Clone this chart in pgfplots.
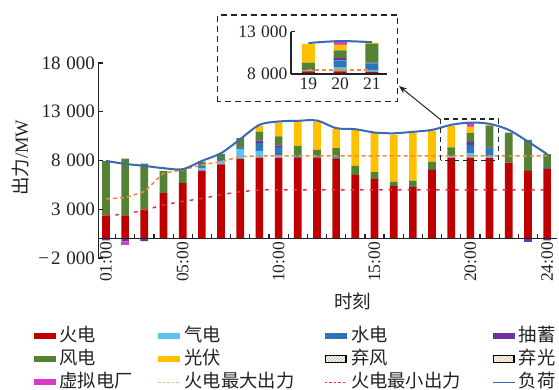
\documentclass[border=0pt]{standalone}
\usepackage{pgfplots}
\pgfplotsset{compat=1.18}
\usepackage{pgfplotstable}
\usetikzlibrary{patterns,arrows.meta}
\usepackage{fontspec}
\setmainfont{Liberation Serif}
\newfontfamily\cjk{Noto Sans CJK SC}

\definecolor{cfire}{HTML}{C00000}
\definecolor{cgas}{HTML}{5BC5F2}
\definecolor{chydro}{HTML}{2E75B6}
\definecolor{cpump}{HTML}{7030A0}
\definecolor{cwind}{HTML}{548235}
\definecolor{cpv}{HTML}{FFC000}
\definecolor{cvpp}{HTML}{D93BC6}
\definecolor{cmax}{HTML}{F08A3C}
\definecolor{cmin}{HTML}{E8303A}
\definecolor{cload}{HTML}{3B68B5}
\definecolor{ctext}{HTML}{222222}

\newcommand{\fy}{\fontsize{19}{22}\selectfont}
\newcommand{\fx}{\fontsize{17.5}{20}\selectfont}
\newcommand{\fl}{\fontsize{18.3}{21}\selectfont}
\newcommand{\fin}{\fontsize{17.5}{20}\selectfont}
\newcommand{\flab}{\fontsize{18.5}{22}\selectfont}
\newcommand{\legbar}[1]{\fill[#1] (0pt,-3pt) rectangle (22pt,3pt);}

\pgfplotstableread{
h fire gas hydro pump wind pv vpp
1 2350 0 0 0 5620 0 0
2 2300 0 0 0 5880 0 0
3 2950 0 0 0 4730 0 0
4 4650 0 0 0 2280 0 0
5 5670 0 0 0 1440 0 0
6 6950 300 230 0 410 0 0
7 7600 350 180 0 550 0 0
8 8160 1000 100 80 950 0 0
9 8300 690 790 260 930 580 0
10 8300 200 890 160 920 1440 0
11 8240 0 160 0 1100 2570 0
12 8300 0 120 0 670 2910 0
13 8130 0 170 0 960 1950 0
14 6520 0 0 0 930 3690 0
15 6080 0 0 0 720 4000 0
16 5390 0 0 0 440 4800 0
17 5260 0 0 0 680 4930 0
18 7030 0 0 0 860 3180 0
19 8300 150 0 0 900 2200 0
20 8300 450 850 280 920 680 350
21 8240 150 870 80 2210 150 0
22 7780 0 0 0 3090 0 0
23 6930 0 0 0 3190 0 0
24 7140 0 80 0 1430 0 0
}\barpos

\pgfplotstableread{
h fire gas hydro pump wind pv vpp
19 8300 150 0 0 900 2200 0
20 8300 450 850 280 920 680 350
21 8240 150 870 80 2210 150 0
}\barinset

\pgfplotstableread{
h pump vpp
1 -200 0
2 -330 -370
3 -260 0
23 -350 0
24 -200 0
}\barneg

\pgfplotstableread{
h pmax pmin load
1 4060 2340 7960
2 4190 2500 7650
3 4810 2900 7450
4 6700 3450 7210
5 7030 3800 7110
6 7550 4100 7960
7 7890 4500 8750
8 8400 4800 10190
9 8470 4980 11660
10 8470 4980 12000
11 8470 4980 12070
12 8470 4980 12100
13 8470 4980 11320
14 8470 4980 11210
15 8470 4980 10870
16 8470 4980 10790
17 8470 4980 10940
18 8470 4980 11140
19 8470 4980 11660
20 8470 4980 11890
21 8470 4980 11760
22 8470 4980 11140
23 8470 4980 9940
24 8470 4980 8650
}\lines

\pgfplotstableread{
h pmax pmin load
19 8470 4980 11660
20 8470 4980 11890
21 8470 4980 11760
}\linesinset

\pgfplotsset{
  geo/.style={scale only axis, width=458.4pt, height=195pt,
    xmin=0.6, xmax=24.5, ymin=-2000, ymax=18000,
    anchor=south west, at={(98.3pt,132pt)}, scaled y ticks=false},
  igeo/.style={scale only axis, width=95.7pt, height=42.3pt,
    xmin=18.45, xmax=21.47, ymin=8000, ymax=13000,
    anchor=south west, at={(291pt,316pt)}, scaled y ticks=false},
}

\begin{document}
\begin{tikzpicture}
\useasboundingbox (0pt,0pt) rectangle (559pt,390pt);
\clip (0pt,0pt) rectangle (559pt,390pt);

% negative stack
\begin{axis}[geo, hide axis, ybar stacked, bar width=0.4]
\addplot[fill=cpump, draw=none] table[x=h,y=pump]{\barneg};
\addplot[fill=cvpp, draw=none] table[x=h,y=vpp]{\barneg};
\end{axis}

% main axis with positive stack
\begin{axis}[geo, ybar stacked, bar width=0.4, axis on top,
  axis x line*=middle, axis y line*=left,
  axis line style={line width=1.2pt, ctext},
  tick style={line width=1.2pt, ctext},
  tick align=inside, major tick length=4.5pt,
  ytick={-2000,3000,8000,13000,18000},
  yticklabels={−\hspace{0.1em}2\hspace{0.3em}000,3\hspace{0.3em}000,8\hspace{0.3em}000,13\hspace{0.3em}000,18\hspace{0.3em}000},
  yticklabel style={font=\fy, text=ctext},
  xtick={1.5,2.5,...,23.5}, xticklabels={},
  extra x ticks={1,5,10,15,20,24},
  extra x tick labels={01:00,05:00,10:00,15:00,20:00,24:00},
  extra x tick style={major tick length=0pt, xticklabel style={rotate=90, anchor=east, font=\fx, text=ctext}},
  xlabel={\cjk 时刻}, ylabel={{\cjk 出力}/MW},
  xlabel style={at={(axis description cs:0.5556,0)}, anchor=center, yshift=-43.5pt, font=\flab, text=ctext},
  ylabel style={at={(axis description cs:-0.1686,0.513)}, anchor=center, font=\flab, text=ctext},
  legend style={at={(-0.1470,-0.338)}, anchor=north west, draw=none, fill=none,
    font=\fl, text=ctext, legend columns=4,
    /tikz/every odd column/.append style={column sep=3pt},
    /tikz/column 2/.append style={column sep=24.5pt},
    /tikz/column 4/.append style={column sep=29.5pt},
    /tikz/column 6/.append style={column sep=30.5pt},
    nodes={inner sep=0.5pt, text height=14.5pt, text depth=4pt}, row sep=3.8pt},
  legend cell align=left,
]
\addplot[fill=cfire, draw=none, legend image code/.code={\legbar{cfire}}] table[x=h,y=fire]{\barpos};
\addlegendentry{\cjk 火电}
\addplot[fill=cgas, draw=none, legend image code/.code={\legbar{cgas}}] table[x=h,y=gas]{\barpos};
\addlegendentry{\cjk 气电}
\addplot[fill=chydro, draw=none, legend image code/.code={\legbar{chydro}}] table[x=h,y=hydro]{\barpos};
\addlegendentry{\cjk 水电}
\addplot[fill=cpump, draw=none, legend image code/.code={\legbar{cpump}}] table[x=h,y=pump]{\barpos};
\addlegendentry{\cjk 抽蓄}
\addplot[fill=cwind, draw=none, legend image code/.code={\legbar{cwind}}] table[x=h,y=wind]{\barpos};
\addlegendentry{\cjk 风电}
\addplot[fill=cpv, draw=none, legend image code/.code={\legbar{cpv}}] table[x=h,y=pv]{\barpos};
\addlegendentry{\cjk 光伏}
\addlegendimage{legend image code/.code={\draw[black, line width=1.5pt, pattern=north east lines, pattern color=cwind!60] (0.75pt,-3.5pt) rectangle (21.25pt,3.5pt);}}
\addlegendentry{\cjk 弃风}
\addlegendimage{legend image code/.code={\draw[black, line width=1.5pt, pattern=north east lines, pattern color=cmax!70] (0.75pt,-3.5pt) rectangle (21.25pt,3.5pt);}}
\addlegendentry{\cjk 弃光}
\addplot[fill=cvpp, draw=none, legend image code/.code={\legbar{cvpp}}] table[x=h,y=vpp]{\barpos};
\addlegendentry{\cjk 虚拟电厂}
\addlegendimage{legend image code/.code={\draw[cmax!60, line width=1.2pt, dash pattern=on 2.5pt off 2pt] (0pt,0pt) -- (22pt,0pt);}}
\addlegendentry{\cjk 火电最大出力}
\addlegendimage{legend image code/.code={\draw[cmin, line width=1.2pt, dash pattern=on 2.5pt off 2pt] (0pt,0pt) -- (22pt,0pt);}}
\addlegendentry{\cjk 火电最小出力}
\addlegendimage{legend image code/.code={\draw[cload, line width=1.5pt] (0pt,0pt) -- (22pt,0pt);}}
\addlegendentry{\cjk 负荷}
\end{axis}

% lines
\begin{axis}[geo, hide axis]
\addplot[cmax, line width=1.5pt, dash pattern=on 4pt off 3pt] table[x=h,y=pmax]{\lines};
\addplot[cmin, line width=1.5pt, dash pattern=on 3.5pt off 6pt] table[x=h,y=pmin]{\lines};
\addplot[cload, line width=2pt, smooth, tension=0.5] table[x=h,y=load]{\lines};
\draw[black!85, line width=1.3pt, dash pattern=on 5pt off 4pt] (axis cs:18.45,8000) rectangle (axis cs:21.47,12250);
\end{axis}

% inset bars
\begin{axis}[igeo, ybar stacked, bar width=0.41, axis on top,
  axis x line*=bottom, axis y line*=left,
  axis line style={line width=1.2pt, ctext},
  tick style={line width=1.2pt, ctext},
  tick align=inside, major tick length=4pt,
  ytick={8000,13000},
  yticklabels={8\hspace{0.3em}000,13\hspace{0.3em}000},
  yticklabel style={font=\fin, text=ctext},
  xtick={19,20,21}, xticklabels={19,20,21},
  xtick style={draw=none},
  xticklabel style={font=\fin, text=ctext},
]
\addplot[fill=cfire, draw=none] table[x=h,y=fire]{\barinset};
\addplot[fill=cgas, draw=none] table[x=h,y=gas]{\barinset};
\addplot[fill=chydro, draw=none] table[x=h,y=hydro]{\barinset};
\addplot[fill=cpump, draw=none] table[x=h,y=pump]{\barinset};
\addplot[fill=cwind, draw=none] table[x=h,y=wind]{\barinset};
\addplot[fill=cpv, draw=none] table[x=h,y=pv]{\barinset};
\addplot[fill=cvpp, draw=none] table[x=h,y=vpp]{\barinset};
\end{axis}

\begin{axis}[igeo, hide axis]
\addplot[cmax, line width=1.5pt, dash pattern=on 4pt off 3pt] table[x=h,y=pmax]{\linesinset};
\addplot[cload, line width=2pt, smooth, tension=0.6] table[x=h,y=load]{\linesinset};
\end{axis}

\draw[black!85, line width=1.3pt, dash pattern=on 6pt off 4pt] (217.3pt,288.3pt) rectangle (397.3pt,375pt);
\draw[black!85, line width=1pt, -{Stealth[length=8pt,width=6pt]}] (441pt,270pt) -- (399pt,304pt);
\end{tikzpicture}
\end{document}
